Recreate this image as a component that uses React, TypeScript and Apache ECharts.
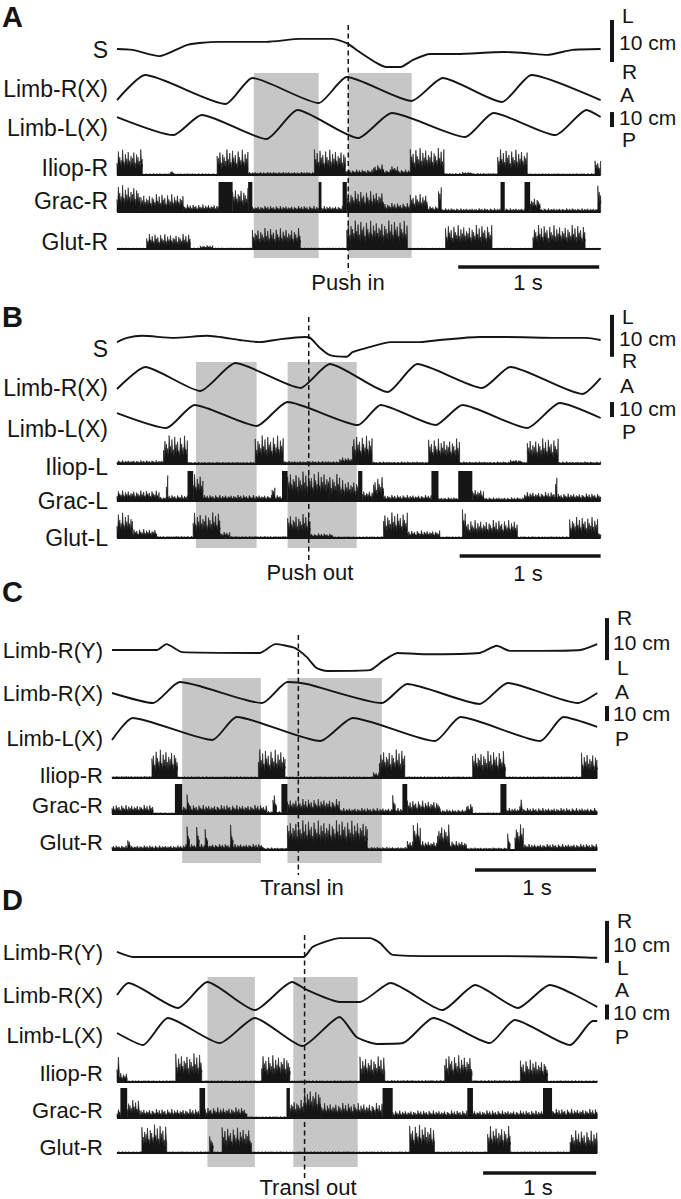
import React, { useEffect, useRef } from "react";
import * as echarts from "echarts";

type Pt = [number, number];
type Burst = [number, number, number]; // [start s, end s, relative amplitude]

// ================= DATA =================
// Panel A — Push in
const A_NAMES = ["S", "Limb-R(X)", "Limb-L(X)", "Iliop-R", "Grac-R", "Glut-R"];
const A_S: Pt[] = [[0, 0], [0.11, -0.2], [0.30, -1.7], [0.50, 1.0], [0.71, 1.7], [1.06, 1.7], [1.30, 2.4], [1.53, 2.4], [1.63, 1.4], [1.72, -0.7], [1.84, -3.3], [1.91, -4.3], [2.01, -4.3], [2.10, -2.6], [2.22, -1.2], [2.41, -1.2], [2.74, -0.7], [2.91, -1.0], [3.05, -1.4], [3.23, -0.2], [3.43, 0]];
const A_RX: Pt[] = [[0, 3.3], [0.20, 20], [0.77, 0.7], [0.96, 18], [1.43, 1.3], [1.63, 18.7], [2.09, 2.7], [2.31, 18], [2.73, 2], [2.94, 20], [3.43, 3.3]];
const A_LX: Pt[] = [[0, 15.3], [0.40, 3.3], [0.60, 16.7], [1.06, 0.7], [1.28, 20], [1.71, 1.3], [1.95, 18], [2.47, 2], [2.67, 18], [3.11, 3.3], [3.33, 20], [3.43, 15.3]];
const A_ILIOP: Burst[] = [[0.00, 0.18, 0.85], [0.18, 0.71, 0.05], [0.38, 0.40, 0.15], [0.71, 0.93, 0.85], [0.93, 1.40, 0.1], [1.40, 1.62, 0.85], [1.62, 2.08, 0.18], [1.82, 1.89, 0.35], [1.94, 1.99, 0.3], [2.08, 2.32, 0.9], [2.32, 2.70, 0.06], [2.45, 2.52, 0.1], [2.70, 2.91, 0.85], [2.91, 3.39, 0.05], [3.39, 3.43, 0.5]];
const A_GRAC: Burst[] = [[0.00, 0.16, 0.9], [0.16, 0.47, 0.6], [0.47, 0.72, 0.25], [0.72, 0.82, 1.0], [0.82, 0.93, 0.8], [0.93, 0.96, 1.0], [0.96, 1.43, 0.2], [1.43, 1.45, 1.0], [1.45, 1.60, 0.2], [1.60, 1.63, 1.0], [1.63, 1.89, 0.7], [1.89, 2.08, 0.3], [2.08, 2.20, 0.6], [2.20, 2.28, 0.2], [2.28, 2.30, 0.93], [2.30, 2.72, 0.12], [2.72, 2.75, 1.0], [2.75, 2.89, 0.12], [2.89, 2.93, 1.0], [2.93, 3.00, 0.5], [3.00, 3.41, 0.12], [3.41, 3.43, 0.95]];
const A_GLUT: Burst[] = [[0.00, 0.21, 0.03], [0.21, 0.52, 0.5], [0.52, 0.96, 0.04], [0.59, 0.68, 0.12], [0.96, 1.30, 0.7], [1.30, 1.63, 0.04], [1.63, 2.06, 0.95], [2.06, 2.33, 0.03], [2.33, 2.66, 0.8], [2.66, 2.95, 0.03], [2.95, 3.32, 0.8], [3.32, 3.43, 0.03]];
const A_SHADE: Pt[] = [[0.97, 1.43], [1.64, 2.09]];
const A_EVENT = 1.64;
const A_EVENT_NAME = "Push in";
const A_DURATION = 3.43;
const A_BAR_START = 2.42;
const A_SCALE_TEXT = ["L", "10 cm", "R", "A", "10 cm", "P"];

// Panel B — Push out
const B_NAMES = ["S", "Limb-R(X)", "Limb-L(X)", "Iliop-L", "Grac-L", "Glut-L"];
const B_S: Pt[] = [[0, -0.5], [0.07, 0.5], [0.18, 1.0], [0.40, 0.5], [0.64, 1.0], [0.87, 0], [1.01, -0.5], [1.16, 0.2], [1.33, 0.7], [1.37, 0.5], [1.44, -1.9], [1.51, -3.6], [1.63, -4.0], [1.67, -2.9], [1.79, -1.7], [1.94, -0.5], [2.15, -0.5], [2.29, 0], [2.57, 0.7], [2.77, 0.7], [3.12, 0.5], [3.33, 0.5], [3.43, 0]];
const B_RX: Pt[] = [[0, 4], [0.20, 18.7], [0.59, 2.7], [0.84, 21.3], [1.30, 4.7], [1.51, 20.7], [1.92, 2], [2.13, 20.7], [2.59, 4.7], [2.79, 18.7], [3.30, 0.7], [3.43, 11.3]];
const B_LX: Pt[] = [[0, 11.3], [0.35, 1.3], [0.55, 16.7], [0.99, 2.7], [1.21, 18.7], [1.71, 3.3], [1.87, 16.7], [2.26, 3.3], [2.45, 16.7], [2.91, 1.3], [3.14, 18], [3.43, 8]];
const B_ILIOP: Burst[] = [[0.00, 0.33, 0.12], [0.33, 0.50, 0.95], [0.50, 0.98, 0.07], [0.98, 1.18, 0.95], [1.18, 1.58, 0.1], [1.58, 1.67, 0.22], [1.67, 1.81, 0.95], [1.81, 2.21, 0.08], [2.21, 2.43, 0.85], [2.43, 2.91, 0.08], [2.79, 2.87, 0.15], [2.91, 3.13, 0.85], [3.13, 3.43, 0.08]];
const B_GRAC: Burst[] = [[0.00, 0.30, 0.35], [0.30, 0.35, 0.15], [0.35, 0.36, 0.85], [0.36, 0.50, 0.2], [0.50, 0.54, 1.0], [0.54, 0.61, 0.9], [0.61, 1.17, 0.2], [1.10, 1.12, 0.5], [1.17, 1.21, 1.0], [1.21, 1.50, 0.98], [1.50, 1.58, 0.9], [1.58, 1.71, 0.7], [1.71, 1.74, 1.0], [1.74, 1.82, 0.35], [1.82, 1.89, 0.8], [1.89, 2.23, 0.2], [2.23, 2.28, 1.0], [2.28, 2.42, 0.12], [2.42, 2.52, 1.0], [2.52, 2.60, 0.4], [2.60, 2.89, 0.12], [2.89, 3.11, 0.3], [3.11, 3.12, 0.9], [3.12, 3.43, 0.25]];
const B_GLUT: Burst[] = [[0.00, 0.11, 0.85], [0.11, 0.28, 0.3], [0.28, 0.54, 0.06], [0.54, 0.73, 0.85], [0.73, 0.80, 0.2], [0.80, 1.21, 0.06], [1.21, 1.37, 0.8], [1.37, 1.53, 0.15], [1.53, 1.89, 0.05], [1.89, 2.06, 0.85], [2.06, 2.29, 0.25], [2.29, 2.45, 0.05], [2.45, 2.47, 0.95], [2.47, 2.84, 0.6], [2.84, 3.21, 0.05], [3.21, 3.41, 0.7], [3.41, 3.43, 0.2]];
const B_SHADE: Pt[] = [[0.56, 0.99], [1.21, 1.70]];
const B_EVENT = 1.36;
const B_EVENT_NAME = "Push out";
const B_DURATION = 3.43;
const B_BAR_START = 2.43;
const B_SCALE_TEXT = ["L", "10 cm", "R", "A", "10 cm", "P"];

// Panel C — Transl in
const C_NAMES = ["Limb-R(Y)", "Limb-R(X)", "Limb-L(X)", "Iliop-R", "Grac-R", "Glut-R"];
const C_Y: Pt[] = [[0, 0], [0.37, 0], [0.45, 1.4], [0.58, -0.5], [1.22, -0.7], [1.35, 1.4], [1.51, 0.5], [1.61, -1.7], [1.69, -4.3], [1.78, -5.0], [2.13, -4.8], [2.24, -2.6], [2.36, -0.7], [2.57, -1.0], [3.04, -0.7], [3.18, 1.0], [3.29, -0.2], [3.54, -0.2], [3.87, 0], [4.01, 1.4]];
const C_RX: Pt[] = [[0, 8], [0.34, 1.3], [0.56, 15.3], [1.24, 1.3], [1.45, 15.3], [1.61, 14], [2.23, 1.3], [2.44, 14], [3.04, 0.7], [3.27, 14.7], [3.85, 1.3], [4.01, 8]];
const C_LX: Pt[] = [[0, 2], [0.17, 16.7], [0.83, 2], [1.03, 17.3], [1.72, 1.3], [1.99, 16.7], [2.67, 1.3], [2.88, 17.3], [3.54, 1.3], [3.73, 17.3], [4.01, 10.7]];
const C_ILIOP: Burst[] = [[0.00, 0.33, 0.06], [0.33, 0.54, 0.95], [0.54, 1.21, 0.05], [1.21, 1.43, 0.95], [1.43, 2.16, 0.05], [2.16, 2.21, 0.2], [2.21, 2.42, 0.95], [2.42, 2.98, 0.05], [2.98, 3.25, 0.9], [3.25, 3.88, 0.05], [3.88, 4.01, 0.85]];
const C_GRAC: Burst[] = [[0.00, 0.34, 0.3], [0.34, 0.52, 0.05], [0.52, 0.58, 1.0], [0.58, 1.28, 0.3], [0.62, 0.64, 0.75], [1.28, 1.40, 0.1], [1.33, 1.36, 0.7], [1.40, 1.45, 1.0], [1.45, 1.88, 0.5], [1.88, 2.32, 0.2], [2.32, 2.34, 0.8], [2.34, 2.40, 0.2], [2.40, 2.44, 1.0], [2.44, 2.71, 0.45], [2.71, 2.93, 0.15], [2.93, 2.98, 0.35], [2.98, 3.21, 0.05], [3.21, 3.26, 1.0], [3.26, 4.01, 0.2], [3.37, 3.39, 0.5]];
const C_GLUT: Burst[] = [[0.00, 0.60, 0.15], [0.13, 0.15, 0.4], [0.60, 1.25, 0.2], [0.62, 0.64, 0.9], [0.70, 0.72, 0.85], [0.77, 0.79, 0.8], [0.98, 1.00, 0.85], [1.25, 1.45, 0.08], [1.45, 2.11, 0.99], [2.11, 2.44, 0.1], [2.44, 2.93, 0.3], [2.49, 2.55, 0.9], [2.69, 2.79, 0.85], [2.93, 3.27, 0.08], [3.27, 3.29, 0.55], [3.33, 3.40, 0.85], [3.40, 4.01, 0.2]];
const C_SHADE: Pt[] = [[0.58, 1.23], [1.45, 2.23]];
const C_EVENT = 1.54;
const C_EVENT_NAME = "Transl in";
const C_DURATION = 4.01;
const C_BAR_START = 3.0;
const C_SCALE_TEXT = ["R", "10 cm", "L", "A", "10 cm", "P"];

// Panel D — Transl out
const D_NAMES = ["Limb-R(Y)", "Limb-R(X)", "Limb-L(X)", "Iliop-R", "Grac-R", "Glut-R"];
const D_Y: Pt[] = [[0, 1.2], [0.14, 0], [1.65, 0], [1.73, 2.4], [1.86, 3.8], [1.97, 4.5], [2.24, 4.5], [2.33, 3.3], [2.44, 0.5], [2.86, 0.2], [3.45, 0.2], [4.04, 0], [4.25, -0.2]];
const D_RX: Pt[] = [[0, 11.3], [0.10, 19.3], [0.54, 2.7], [0.80, 20], [1.22, 1.3], [1.55, 20], [1.68, 14.7], [1.97, 6.7], [2.15, 6.7], [2.42, 19.3], [2.88, 1.3], [3.17, 18], [3.55, 2.7], [3.83, 18], [4.25, 3.3]];
const D_LX: Pt[] = [[0, 10], [0.23, 2], [0.45, 20], [0.91, 3.3], [1.22, 20], [1.64, 1.3], [1.97, 20.7], [2.12, 7.3], [2.30, 2.7], [2.53, 3.3], [2.80, 20], [3.30, 3.3], [3.52, 18.7], [4.01, 2], [4.21, 18], [4.25, 18]];
const D_ILIOP: Burst[] = [[0.00, 0.02, 0.9], [0.02, 0.09, 0.3], [0.09, 0.52, 0.05], [0.52, 0.75, 0.95], [0.75, 1.28, 0.05], [1.28, 1.53, 0.9], [1.53, 2.15, 0.05], [2.15, 2.37, 0.85], [2.37, 2.90, 0.06], [2.90, 3.14, 0.9], [3.14, 3.57, 0.06], [3.57, 3.81, 0.75], [3.81, 4.25, 0.05]];
const D_GRAC: Burst[] = [[0.00, 0.03, 0.3], [0.03, 0.09, 1.0], [0.09, 0.20, 0.6], [0.20, 0.73, 0.3], [0.73, 0.78, 1.0], [0.78, 1.15, 0.35], [1.15, 1.50, 0.05], [1.50, 1.53, 1.0], [1.53, 1.66, 0.6], [1.66, 1.80, 0.98], [1.80, 2.35, 0.5], [2.35, 2.44, 1.0], [2.44, 3.10, 0.25], [3.10, 3.15, 1.0], [3.15, 3.77, 0.25], [3.77, 3.85, 1.0], [3.85, 4.25, 0.3]];
const D_GLUT: Burst[] = [[0.00, 0.22, 0.05], [0.22, 0.44, 0.95], [0.44, 0.82, 0.05], [0.82, 0.85, 0.6], [0.85, 0.93, 0.05], [0.93, 1.19, 0.85], [1.19, 2.59, 0.05], [2.59, 2.81, 0.95], [2.81, 3.28, 0.05], [3.28, 3.48, 0.9], [3.48, 4.01, 0.05], [4.01, 4.25, 0.75]];
const D_SHADE: Pt[] = [[0.80, 1.22], [1.56, 2.13]];
const D_EVENT = 1.66;
const D_EVENT_NAME = "Transl out";
const D_DURATION = 4.25;
const D_BAR_START = 3.24;
const D_SCALE_TEXT = ["R", "10 cm", "L", "A", "10 cm", "P"];

const SCALE_CM = 10; // vertical scale bars
const SCALE_SEC = 1; // horizontal scale bar
const TIME_LABEL = "1 s";

// ================= LAYOUT / STYLE =================
const PAGE_W = 681;
const PAGE_H = 1199;
const FONT = '"Liberation Sans", Arial, Helvetica, sans-serif';
const INK = "#151515";
const SHADE = "#c6c6c6";
const KIN_SCALE = [4.2, 1.5, 1.5]; // px per cm
const KIN_RANGE: Pt[] = [[-12, 9], [-20, 24], [-20, 24]];
const KIN_SMOOTH = 0.2;
const EMG_UNIT = 30; // px per unit amplitude
const RIGHT_SIZE = 21;
const JAG = [0.55, 1, 0.62, 0.86, 0.5, 0.95, 0.68, 0.78, 0.46, 0.92, 0.7, 0.58, 0.99, 0.52, 0.82, 0.64, 0.9, 0.56, 0.74, 0.66, 0.88, 0.48, 0.8, 0.7];

interface Layout {
  letter: string; letterY: number; left: number; pxPerSec: number; labelSize: number;
  labelRight: number; labelY: number[]; kinZero: number[]; emgBase: number[];
  shadeY: [number, number]; dashY: [number, number]; barY: number;
  barText: [number, number]; eventText: [number, number];
  vBarX: number; vBarLo: [number, number]; rightX: number[]; rightY: number[];
}

const LAYOUT_A: Layout = { letter: "A", letterY: 17, left: 117, pxPerSec: 141, labelSize: 23, labelRight: 108, labelY: [50, 89, 128, 168, 201, 242], kinZero: [49, 105, 140], emgBase: [175, 212, 249], shadeY: [73, 258], dashY: [25, 272], barY: 267, barText: [528, 282], eventText: [348, 282], vBarX: 612, vBarLo: [-3.1, -14.7], rightX: [622, 619, 622, 620, 619, 622], rightY: [15, 42, 71, 94, 117, 139] };
const LAYOUT_B: Layout = { letter: "B", letterY: 317, left: 117, pxPerSec: 141, labelSize: 23, labelRight: 108, labelY: [349, 388, 429, 467, 501, 538], kinZero: [340, 395, 430], emgBase: [464, 501, 538], shadeY: [362, 548], dashY: [317, 560], barY: 556, barText: [528, 573], eventText: [310, 572], vBarX: 612, vBarLo: [-4.0, -14.7], rightX: [622, 619, 622, 620, 619, 622], rightY: [316, 338, 360, 385, 408, 431] };
const LAYOUT_C: Layout = { letter: "C", letterY: 592, left: 112, pxPerSec: 121, labelSize: 22, labelRight: 103, labelY: [650, 693, 738, 775, 805, 842], kinZero: [650, 705, 743], emgBase: [778, 814, 850], shadeY: [678, 863], dashY: [635, 875], barY: 870, barText: [537, 887], eventText: [302, 887], vBarX: 607, vBarLo: [-2.4, -10.7], rightX: [617, 613, 617, 615, 613, 615], rightY: [617, 642, 667, 691, 713, 738] };
const LAYOUT_D: Layout = { letter: "D", letterY: 900, left: 117, pxPerSec: 113, labelSize: 22, labelRight: 103, labelY: [952, 995, 1035, 1073, 1110, 1147], kinZero: [957, 1012, 1048], emgBase: [1082, 1118, 1153], shadeY: [977, 1167], dashY: [935, 1178], barY: 1173, barText: [538, 1187], eventText: [308, 1187], vBarX: 607, vBarLo: [-1.4, -5], rightX: [617, 613, 617, 615, 613, 615], rightY: [920, 944, 967, 989, 1012, 1036] };

const PANELS = [
  { names: A_NAMES, kin: [A_S, A_RX, A_LX], emg: [A_ILIOP, A_GRAC, A_GLUT], shade: A_SHADE, event: A_EVENT, eventName: A_EVENT_NAME, duration: A_DURATION, barStart: A_BAR_START, scaleText: A_SCALE_TEXT, L: LAYOUT_A },
  { names: B_NAMES, kin: [B_S, B_RX, B_LX], emg: [B_ILIOP, B_GRAC, B_GLUT], shade: B_SHADE, event: B_EVENT, eventName: B_EVENT_NAME, duration: B_DURATION, barStart: B_BAR_START, scaleText: B_SCALE_TEXT, L: LAYOUT_B },
  { names: C_NAMES, kin: [C_Y, C_RX, C_LX], emg: [C_ILIOP, C_GRAC, C_GLUT], shade: C_SHADE, event: C_EVENT, eventName: C_EVENT_NAME, duration: C_DURATION, barStart: C_BAR_START, scaleText: C_SCALE_TEXT, L: LAYOUT_C },
  { names: D_NAMES, kin: [D_Y, D_RX, D_LX], emg: [D_ILIOP, D_GRAC, D_GLUT], shade: D_SHADE, event: D_EVENT, eventName: D_EVENT_NAME, duration: D_DURATION, barStart: D_BAR_START, scaleText: D_SCALE_TEXT, L: LAYOUT_D },
];

function txt(t: string, x: number, y: number, size: number, align: string, bold = false) {
  return {
    type: "text", x, y, silent: true, z: 30,
    style: {
      text: t, fill: INK, font: `${bold ? "bold " : ""}${size}px ${FONT}`,
      align, verticalAlign: "middle", textAlign: align, textVerticalAlign: "middle",
    },
  };
}

function emgRender(params: any, api: any) {
  const t0 = api.value(0), t1 = api.value(1), amp = api.value(2);
  const p0 = api.coord([t0, 0]);
  const p1 = api.coord([t1, 0]);
  const unit = api.size([0, 1])[1];
  const h = amp * unit;
  const x0 = p0[0];
  const x1 = Math.max(p1[0], x0 + 1.5);
  const y0 = p0[1];
  if (amp >= 1) {
    return { type: "rect", shape: { x: x0, y: y0 - h, width: x1 - x0, height: h }, style: { fill: INK } };
  }
  const pts: number[][] = [[x0, y0]];
  let k = Math.round(x0 * 1.3);
  for (let x = x0; x <= x1; x += 1.4) {
    const f = JAG[k % JAG.length];
    k += 1;
    pts.push([x, y0 - h * f]);
    pts.push([Math.min(x + 0.7, x1), y0 - h * f * 0.5]);
  }
  pts.push([x1, y0 - h * 0.4]);
  pts.push([x1, y0]);
  return { type: "polygon", shape: { points: pts }, style: { fill: INK, stroke: INK, lineWidth: 0.6 } };
}

function buildOption() {
  const grid: any[] = [], xAxis: any[] = [], yAxis: any[] = [], series: any[] = [], graphic: any[] = [];

  PANELS.forEach((p) => {
    const L = p.L;
    const width = p.duration * L.pxPerSec;
    const addGrid = (top: number, height: number, ymin: number, ymax: number, inverse = false) => {
      const idx = grid.length;
      grid.push({ left: L.left, top, width, height, containLabel: false });
      xAxis.push({ type: "value", gridIndex: idx, min: 0, max: p.duration, show: false });
      yAxis.push({ type: "value", gridIndex: idx, min: ymin, max: ymax, show: false, inverse });
      return idx;
    };

    // overlay grid, vertically in page pixels
    const ov = addGrid(0, PAGE_H, 0, PAGE_H, true);
    series.push({
      type: "custom", xAxisIndex: ov, yAxisIndex: ov, z: 1, silent: true, data: p.shade,
      renderItem: (params: any, api: any) => {
        const a = api.coord([api.value(0), L.shadeY[0]]);
        const b = api.coord([api.value(1), L.shadeY[1]]);
        return { type: "rect", shape: { x: a[0], y: a[1], width: b[0] - a[0], height: b[1] - a[1] }, style: { fill: SHADE } };
      },
    });
    series.push({
      type: "custom", xAxisIndex: ov, yAxisIndex: ov, z: 8, silent: true, data: [[p.event, 0]],
      renderItem: (params: any, api: any) => {
        const a = api.coord([api.value(0), L.dashY[0]]);
        const b = api.coord([api.value(0), L.dashY[1]]);
        return { type: "line", shape: { x1: a[0], y1: a[1], x2: b[0], y2: b[1] }, style: { stroke: INK, lineWidth: 1.5, lineDash: [5, 3.5] } };
      },
    });
    series.push({
      type: "line", xAxisIndex: ov, yAxisIndex: ov, z: 5, silent: true, symbol: "none", clip: false,
      data: [[p.barStart, L.barY], [p.barStart + SCALE_SEC, L.barY]],
      lineStyle: { color: INK, width: 3.5 },
    });

    // kinematic rows
    const kinGrids: number[] = [];
    p.kin.forEach((d, i) => {
      const sc = KIN_SCALE[i];
      const [ymin, ymax] = KIN_RANGE[i];
      const g = addGrid(L.kinZero[i] - ymax * sc, (ymax - ymin) * sc, ymin, ymax);
      kinGrids.push(g);
      series.push({
        type: "line", xAxisIndex: g, yAxisIndex: g, z: 4, silent: true, symbol: "none",
        smooth: KIN_SMOOTH, data: d, lineStyle: { color: INK, width: 1.9 },
      });
    });
    // vertical 10 cm scale bars (in the S/Y row and the Limb-R(X) row)
    [0, 1].forEach((j) => {
      const g = kinGrids[j];
      series.push({
        type: "custom", xAxisIndex: g, yAxisIndex: g, z: 5, silent: true, clip: false,
        data: [[L.vBarLo[j], L.vBarLo[j] + SCALE_CM]],
        renderItem: (params: any, api: any) => {
          const lo = api.coord([0, api.value(0)])[1];
          const hi = api.coord([0, api.value(1)])[1];
          return { type: "rect", shape: { x: L.vBarX - 2, y: hi, width: 4, height: lo - hi }, style: { fill: INK } };
        },
      });
    });

    // EMG rows
    p.emg.forEach((bursts, i) => {
      const ymin = -0.2, ymax = 1.2;
      const g = addGrid(L.emgBase[i] - ymax * EMG_UNIT, (ymax - ymin) * EMG_UNIT, ymin, ymax);
      series.push({
        type: "line", xAxisIndex: g, yAxisIndex: g, z: 4, silent: true, symbol: "none",
        data: [[0, 0], [p.duration, 0]], lineStyle: { color: INK, width: 1.8 },
      });
      series.push({
        type: "custom", xAxisIndex: g, yAxisIndex: g, z: 4, silent: true,
        data: bursts, renderItem: emgRender,
      });
    });

    // texts
    graphic.push(txt(L.letter, 2, L.letterY, 29, "left", true));
    p.names.forEach((n, i) => graphic.push(txt(n, L.labelRight, L.labelY[i], L.labelSize, "right")));
    p.scaleText.forEach((n, i) => graphic.push(txt(n, L.rightX[i], L.rightY[i], RIGHT_SIZE, "left")));
    graphic.push(txt(p.eventName, L.eventText[0], L.eventText[1], 22, "center"));
    graphic.push(txt(TIME_LABEL, L.barText[0], L.barText[1], 22, "center"));
  });

  return { animation: false, backgroundColor: "#ffffff", grid, xAxis, yAxis, series, graphic };
}

export default function App() {
  const ref = useRef<HTMLDivElement>(null);
  useEffect(() => {
    if (!ref.current) return;
    const chart = echarts.init(ref.current, null, { renderer: "svg" });
    chart.setOption(buildOption() as any);
    return () => chart.dispose();
  }, []);
  return (
    <div
      ref={ref}
      style={{ position: "absolute", left: 0, top: 0, width: PAGE_W, height: PAGE_H, background: "#fff" }}
    />
  );
}
